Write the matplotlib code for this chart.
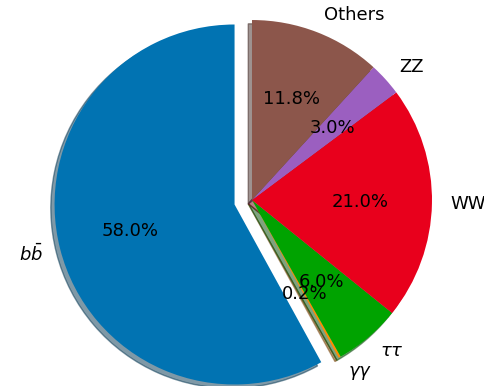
import matplotlib
matplotlib.use("Agg")
import matplotlib.pyplot as plt

# Higgs boson decay branching ratios
labels = [r'$b\bar{b}$', r'$\gamma\gamma$', r'$\tau\tau$', 'WW', 'ZZ', 'Others']
fractions = [58.0, 0.2, 6.0, 21.0, 3.0, 11.8]
explode = [0.1, 0, 0, 0, 0, 0]
colors = ['#0173b2', '#ff8c00', '#00a300', '#e8001c', '#9b5fc0', '#8c564b']

fig = plt.figure(figsize=(4.84, 3.86), dpi=100)
ax = fig.add_axes([0, 0, 1, 1])
ax.pie(fractions, labels=labels, explode=explode, colors=colors,
       autopct='%1.1f%%', startangle=90,
       shadow={'ox': -0.015, 'oy': -0.015, 'shade': 0.55},
       textprops={'fontsize': 13})
ax.set_aspect('equal')
ax.set_xlim(-1.4, 1.289)
ax.set_ylim(-1.033, 1.111)
ax.axis('off')
fig.savefig('out.png', dpi=100)
